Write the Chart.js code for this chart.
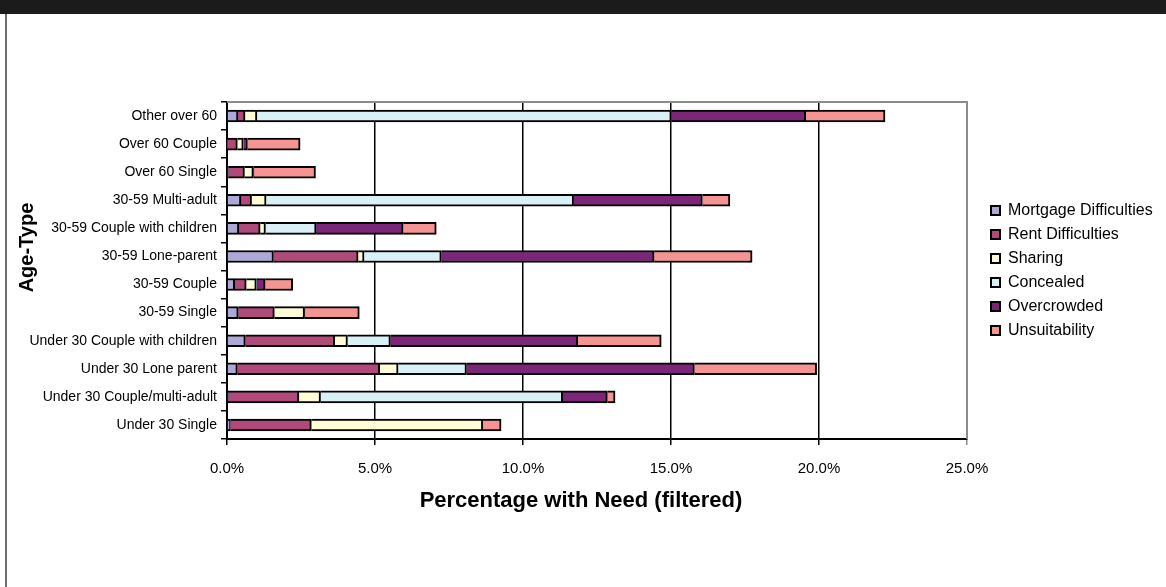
<!DOCTYPE html>
<html>
<head>
<meta charset="utf-8">
<script src="https://cdn.jsdelivr.net/npm/chart.js@4"></script>
<style>
  body { margin: 0; background: #fff; }
  #topband { position: absolute; left: 0; top: 0; width: 1166px; height: 14px; background: #1b1b1b; }
  #leftline { position: absolute; left: 5px; top: 14px; width: 2px; height: 573px; background: #6e6e6e; }
  #wrap { position: absolute; left: 0; top: 14px; width: 1166px; height: 573px; }
</style>
</head>
<body>
<div id="topband"></div>
<div id="wrap"><canvas id="needChart" width="1166" height="573"></canvas></div>
<div id="leftline"></div>
<script>
// categories, top to bottom as shown
const ageTypes = [
    'Other over 60', 'Over 60 Couple', 'Over 60 Single', '30-59 Multi-adult',
    '30-59 Couple with children', '30-59 Lone-parent', '30-59 Couple', '30-59 Single',
    'Under 30 Couple with children', 'Under 30 Lone parent', 'Under 30 Couple/multi-adult', 'Under 30 Single'
];

// percentages
const mortgage      = [0.37, 0.02, 0.05, 0.47, 0.40, 1.57, 0.26, 0.38, 0.62, 0.35, 0.06, 0.11];
const rent          = [0.24, 0.33, 0.54, 0.36, 0.72, 2.86, 0.39, 1.22, 3.02, 4.81, 2.37, 2.74];
const sharing       = [0.40, 0.20, 0.30, 0.49, 0.18, 0.20, 0.34, 1.02, 0.43, 0.62, 0.73, 5.79];
const concealed     = [14.00, 0.02, 0.00, 10.39, 1.71, 2.61, 0.02, 0.00, 1.45, 2.31, 8.18, 0.00];
const overcrowded   = [4.54, 0.12, 0.02, 4.35, 2.94, 7.19, 0.28, 0.01, 6.33, 7.70, 1.51, 0.00];
const unsuitability = [2.68, 1.78, 2.08, 0.93, 1.12, 3.31, 0.93, 1.84, 2.82, 4.13, 0.26, 0.62];

const xTicks = [0, 5, 10, 15, 20, 25];

const FONT = '"Liberation Sans", Arial, sans-serif';

function serie(label, data, color) {
    return {
        label: label,
        data: data,
        backgroundColor: color,
        borderColor: '#000',
        borderWidth: 2,
        barThickness: 12
    };
}

// gray frame on top and right of the plot, like the original
const frameLines = {
    id: 'frameLines',
    afterDraw(chart) {
        const a = chart.chartArea;
        const ctx = chart.ctx;
        ctx.save();
        ctx.strokeStyle = '#8c8c8c';
        ctx.lineWidth = 2;
        ctx.beginPath();
        ctx.moveTo(a.left, a.top);
        ctx.lineTo(a.right, a.top);
        ctx.lineTo(a.right, a.bottom);
        ctx.stroke();
        ctx.restore();
    }
};

// keep the legend column at a fixed width and nudge it right
const legendBox = {
    id: 'legendBox',
    afterInit(chart) {
        const lg = chart.legend;
        const fit = lg.fit.bind(lg);
        lg.fit = function () {
            fit();
            this.width = 199;
        };
    },
    afterLayout(chart) {
        chart.legend.left += 16;
    }
};

// axis titles are not centred on the plot in the original
function shiftTitle(scale, dx, dy) {
    if (scale._shifted) return;
    const draw = scale.drawTitle.bind(scale);
    scale.drawTitle = function () {
        const ctx = this.ctx;
        ctx.save();
        ctx.translate(dx, dy);
        draw();
        ctx.restore();
    };
    scale._shifted = true;
}

const titleShift = {
    id: 'titleShift',
    beforeDraw(chart) {
        shiftTitle(chart.scales.x, -16, 0);
        shiftTitle(chart.scales.y, 0, -23);
    }
};

new Chart(document.getElementById('needChart'), {
    type: 'bar',
    data: {
        labels: ageTypes,
        datasets: [
            serie('Mortgage Difficulties', mortgage, '#aca9d6'),
            serie('Rent Difficulties', rent, '#b04a7a'),
            serie('Sharing', sharing, '#fffcd6'),
            serie('Concealed', concealed, '#d8f0f6'),
            serie('Overcrowded', overcrowded, '#7b2678'),
            serie('Unsuitability', unsuitability, '#f69494')
        ]
    },
    options: {
        indexAxis: 'y',
        responsive: false,
        animation: false,
        layout: { padding: { left: 15, top: 88, bottom: 73, right: 0 } },
        plugins: {
            tooltip: { enabled: false },
            legend: {
                position: 'right',
                align: 'center',
                fullSize: false,
                labels: {
                    boxWidth: 9,
                    boxHeight: 9,
                    padding: 8,
                    color: '#000',
                    font: { family: FONT, size: 16 }
                }
            }
        },
        scales: {
            x: {
                stacked: true,
                min: 0,
                max: 25,
                afterBuildTicks(scale) {
                    scale.ticks = xTicks.map(v => ({ value: v }));
                },
                afterFit(scale) { scale.height = 75; },
                ticks: {
                    padding: 15,
                    color: '#000',
                    font: { family: FONT, size: 15 },
                    callback: v => v.toFixed(1) + '%'
                },
                grid: {
                    color: ctx => (ctx.index === xTicks.length - 1 ? '#8c8c8c' : '#000'),
                    lineWidth: 1.5,
                    tickLength: 6
                },
                border: { color: '#000', width: 2 },
                title: {
                    display: true,
                    text: 'Percentage with Need (filtered)',
                    color: '#000',
                    padding: 0,
                    font: { family: FONT, size: 22, weight: 'bold' }
                }
            },
            y: {
                stacked: true,
                afterFit(scale) { scale.width = 212; },
                ticks: {
                    padding: 4,
                    color: '#000',
                    font: { family: FONT, size: 14 }
                },
                grid: {
                    drawOnChartArea: false,
                    color: '#000',
                    lineWidth: 1.5,
                    tickLength: 6
                },
                border: { color: '#000', width: 2 },
                title: {
                    display: true,
                    text: 'Age-Type',
                    color: '#000',
                    padding: 0,
                    font: { family: FONT, size: 20, weight: 'bold' }
                }
            }
        }
    },
    plugins: [frameLines, legendBox, titleShift]
});
</script>
</body>
</html>
